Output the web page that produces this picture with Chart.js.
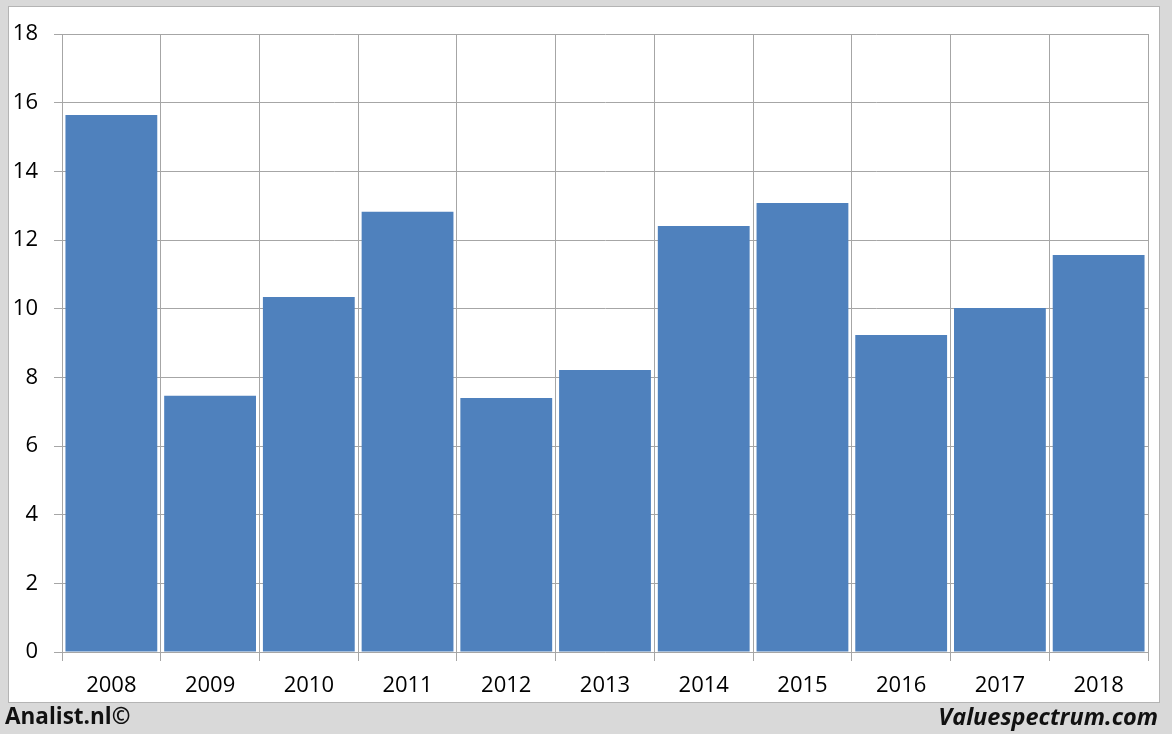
<!DOCTYPE html>
<html>
<head>
<meta charset="utf-8">
<script src="https://cdn.jsdelivr.net/npm/chart.js@4"></script>
<style>
  html, body { margin: 0; padding: 0; }
  body { width: 1172px; height: 734px; background: #d9d9d9; position: relative; overflow: hidden; font-family: "Open Sans", sans-serif; }
  #panel { position: absolute; left: 8px; top: 6px; width: 1150px; height: 695px; background: #fff; border: 1px solid #b4b4b4; }
  #chart { position: absolute; left: 0; top: 0; }
  .foot { position: absolute; top: 701px; font-weight: bold; color: #111; line-height: 30px; }
  #left { left: 5px; font-size: 22.5px; }
  #right { right: 14px; font-size: 23.5px; font-style: italic; }
</style>
</head>
<body>
<div id="panel"><canvas id="chart" width="1150" height="695"></canvas></div>
<div class="foot" id="left">Analist.nl©</div>
<div class="foot" id="right">Valuespectrum.com</div>
<script>
const years = ['2008', '2009', '2010', '2011', '2012', '2013', '2014', '2015', '2016', '2017', '2018'];
const values = [15.64, 7.46, 10.34, 12.82, 7.40, 8.21, 12.41, 13.08, 9.23, 10.02, 11.56];
const yTicks = [0, 2, 4, 6, 8, 10, 12, 14, 16, 18];

const gridColor = '#a6a6a6';
const tickFont = { family: '"Open Sans", sans-serif', size: 22 };

new Chart(document.getElementById('chart'), {
  type: 'bar',
  data: {
    labels: years,
    datasets: [{
      data: values,
      backgroundColor: '#4f81bd',
      borderWidth: 0,
      barPercentage: 0.93,
      categoryPercentage: 1,
    }],
  },
  options: {
    responsive: false,
    animation: false,
    layout: { padding: { top: 27, right: 11, left: 0, bottom: 0 } },
    plugins: { legend: { display: false }, tooltip: { enabled: false } },
    scales: {
      x: {
        offset: true,
        grid: { color: gridColor, lineWidth: 1, offset: true, tickLength: 9 },
        border: { color: gridColor },
        ticks: { color: '#000', font: tickFont, padding: 12, maxRotation: 0 },
        afterFit: (scale) => { scale.height = 50; },
      },
      y: {
        min: 0,
        max: 18,
        afterBuildTicks: (scale) => { scale.ticks = yTicks.map((v) => ({ value: v })); },
        grid: { color: gridColor, lineWidth: 1, tickLength: 8 },
        border: { color: gridColor },
        ticks: { color: '#000', font: tickFont, padding: 16 },
        afterFit: (scale) => {
          scale.width = 53;
          scale.paddingTop = 0; // the label padding would push the plot down otherwise
          scale.paddingBottom = 0;
        },
      },
    },
  },
});
</script>
</body>
</html>
